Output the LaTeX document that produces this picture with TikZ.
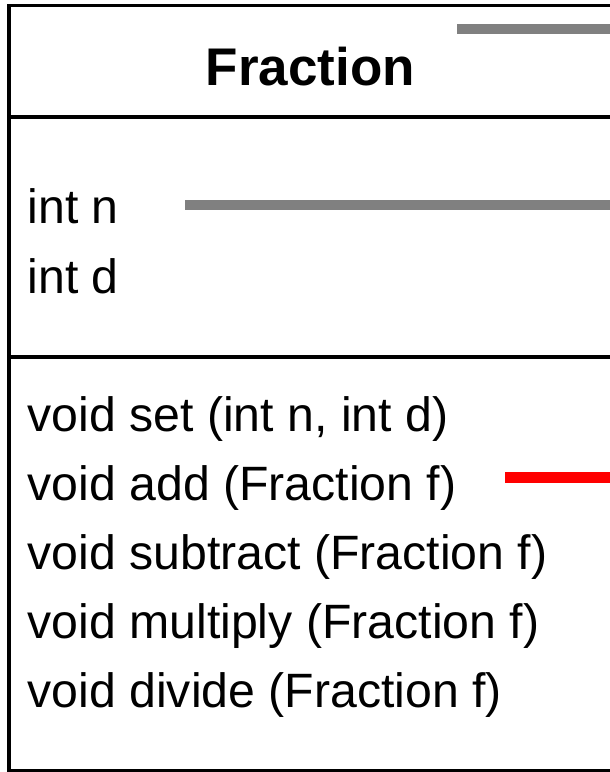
\documentclass[tikz,border=0pt]{standalone}
\usepackage{fontspec}
\setmainfont{Liberation Sans}
\begin{document}
\begin{tikzpicture}[x=1pt,y=-1pt,
  frame/.style={line width=3.8pt,black},
  title/.style={anchor=base,inner sep=0pt,font=\fontsize{53}{53}\selectfont\bfseries},
  member/.style={anchor=base west,inner sep=0pt,font=\fontsize{48.2}{48.2}\selectfont},
  grayline/.style={line width=9.5pt,color=gray},
  redline/.style={line width=11pt,color=red}]
\useasboundingbox (0,0) rectangle (610,772);
\clip (0,0) rectangle (610,772);
% class box, open to the right
\draw[frame] (640,5.5) -- (9,5.5) -- (9,770.5) -- (640,770.5);
\draw[frame] (9,117) -- (640,117);
\draw[frame] (9,357) -- (640,357);
% class name
\node[title] (cls) at (310.5,85) {Fraction};
% attributes
\node[member] (an) at (27.5,223) {int n};
\node[member] (ad) at (27.5,293) {int d};
% operations
\node[member] (mset) at (27.5,431.5) {void set (int n, int d)};
\node[member] (madd) at (27.5,500.5) {void add (Fraction f)};
\node[member] (msub) at (27.5,569.5) {void subtract (Fraction f)};
\node[member] (mmul) at (27.5,638.5) {void multiply (Fraction f)};
\node[member] (mdiv) at (27.5,707.5) {void divide (Fraction f)};
% connectors leaving the box to the right
\coordinate (g1a) at (457,29);  \coordinate (g1b) at (640,29);
\coordinate (g2a) at (185,205); \coordinate (g2b) at (640,205);
\coordinate (r1a) at (505,477); \coordinate (r1b) at (640,477);
\draw[grayline] (g1a) -- (g1b);
\draw[grayline] (g2a) -- (g2b);
\draw[redline] (r1a) -- (r1b);
\end{tikzpicture}
\end{document}
